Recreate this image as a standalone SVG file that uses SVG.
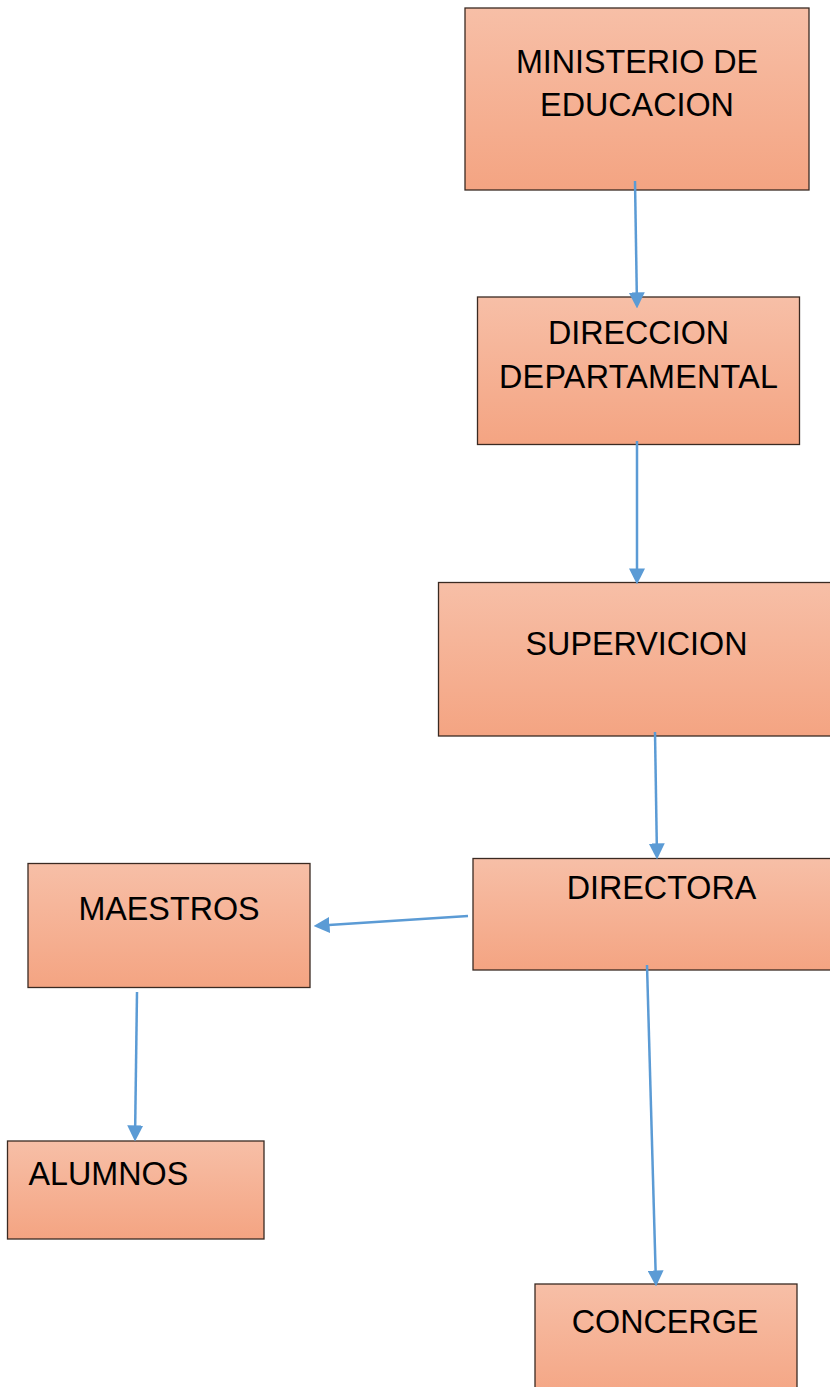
<svg xmlns="http://www.w3.org/2000/svg" width="830" height="1387" viewBox="0 0 830 1387">
  <style>
    .box { fill: url(#grad); stroke: #3a2a22; stroke-width: 1.3; }
    .lbl { font-family: "Liberation Sans", Arial, sans-serif; font-size: 32.3px; fill: #000; }
    .mid { text-anchor: middle; }
    .conn { stroke: #5B9BD5; stroke-width: 2.5; fill: none; marker-end: url(#arrow); }
  </style>
  <defs>
    <linearGradient id="grad" x1="0" y1="0" x2="0" y2="1">
      <stop offset="0" stop-color="#F7BFA7"/>
      <stop offset="1" stop-color="#F4A482"/>
    </linearGradient>
    <marker id="arrow" markerUnits="userSpaceOnUse" markerWidth="16" markerHeight="16" viewBox="0 0 14 14" refX="4" refY="7" orient="auto">
      <path d="M0,0 L14,7 L0,14 z" fill="#5B9BD5"/>
    </marker>
  </defs>
  <rect width="830" height="1387" fill="#fff"/>

  <g id="ministerio">
    <rect class="box" x="465" y="8" width="344" height="182"/>
    <text class="lbl mid" x="637" y="73">MINISTERIO DE</text>
    <text class="lbl mid" x="637" y="116">EDUCACION</text>
  </g>
  <g id="direccion">
    <rect class="box" x="477.5" y="297" width="322" height="147.5"/>
    <text class="lbl mid" x="638.5" y="344">DIRECCION</text>
    <text class="lbl mid" x="638.5" y="388" textLength="279" lengthAdjust="spacing">DEPARTAMENTAL</text>
  </g>
  <g id="supervicion">
    <rect class="box" x="438.5" y="582.5" width="400" height="153.5"/>
    <text class="lbl mid" x="636.5" y="655">SUPERVICION</text>
  </g>
  <g id="directora">
    <rect class="box" x="473" y="858.5" width="370" height="111.5"/>
    <text class="lbl mid" x="661.5" y="899">DIRECTORA</text>
  </g>
  <g id="maestros">
    <rect class="box" x="28" y="863.5" width="282" height="124"/>
    <text class="lbl mid" x="169" y="920">MAESTROS</text>
  </g>
  <g id="alumnos">
    <rect class="box" x="7.5" y="1141" width="256.5" height="98"/>
    <text class="lbl" x="28.5" y="1185">ALUMNOS</text>
  </g>
  <g id="concerge">
    <rect class="box" x="535" y="1284" width="262" height="120"/>
    <text class="lbl mid" x="665" y="1333">CONCERGE</text>
  </g>

  <g id="connectors">
    <path class="conn" d="M635,181 L636.84,297"/>
    <path class="conn" d="M637,441 L637,573"/>
    <path class="conn" d="M655,732 L656.84,848"/>
    <path class="conn" d="M468,916 L324.98,925.35"/>
    <path class="conn" d="M647,965 L655.72,1275"/>
    <path class="conn" d="M137,992 L135.14,1130"/>
  </g>
</svg>
